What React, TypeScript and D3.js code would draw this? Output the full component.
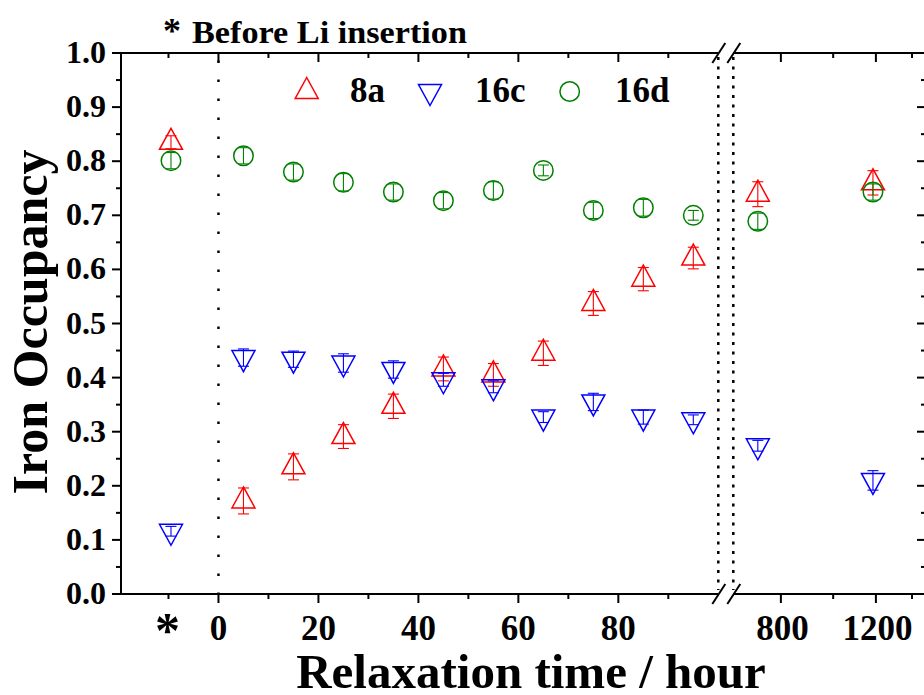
import React from "react";
import * as d3 from "d3";

// ---- data ----
const timesLeft = [-9.5, 5, 15, 25, 35, 45, 55, 65, 75, 85, 95];
const timesRight = [725, 1185];
const occ8a = [0.835, 0.172, 0.235, 0.291, 0.347, 0.416, 0.405, 0.445, 0.537, 0.582, 0.621, 0.739, 0.76];
const err8a = [0.012, 0.024, 0.024, 0.022, 0.0225, 0.022, 0.021, 0.0225, 0.022, 0.0215, 0.02, 0.023, 0.0225];
const occ16c = [0.116, 0.437, 0.434, 0.427, 0.415, 0.396, 0.383, 0.327, 0.355, 0.327, 0.322, 0.274, 0.21];
const err16c = [0.009, 0.016, 0.015, 0.017, 0.016, 0.012, 0.011, 0.01, 0.016, 0.013, 0.009, 0.01, 0.018];
const occ16d = [0.801, 0.81, 0.78, 0.761, 0.743, 0.727, 0.746, 0.783, 0.709, 0.714, 0.7, 0.689, 0.743];
const err16d = [0.015, 0.015, 0.015, 0.016, 0.015, 0.015, 0.016, 0.01, 0.015, 0.0155, 0.009, 0.015, 0.015];

const seriesNames = ["8a", "16c", "16d"];
const seriesColors = ["#ff0000", "#0000ff", "#008000"];

const xMajorLeft = [0, 20, 40, 60, 80];
const xMinorLeft = [-10, 10, 30, 50, 70, 90];
const xMajorRight = [800, 1200];
const xMinorRight = [1000, 1400];
const yMajor = [0, 0.1, 0.2, 0.3, 0.4, 0.5, 0.6, 0.7, 0.8, 0.9, 1.0];
const yMinor = [0.05, 0.15, 0.25, 0.35, 0.45, 0.55, 0.65, 0.75, 0.85, 0.95];
const beforeTickValue = -10;
const beforeLabel = "*";
const xTitle = "Relaxation time / hour";
const yTitle = "Iron Occupancy";
const noteText = "Before Li insertion";

const FONT = "'Liberation Serif', 'Times New Roman', Times, serif";

export default function App() {
  const W = 924, H = 695;
  const L = 121, BR1 = 718.3, BR2 = 733.3, R = 926, T = 53, B = 594;
  const xL = d3.scaleLinear().domain([-19.5, 100]).range([L, BR1]);
  const xR = d3.scaleLog().domain([653, 1486]).range([BR2, R]);
  const y = d3.scaleLinear().domain([0, 1]).range([B, T]);

  const allTimes = [...timesLeft, ...timesRight];
  const xOf = (i: number) => (i < timesLeft.length ? xL(allTimes[i]) : xR(allTimes[i]));

  const upTri = "M0,-14L11.5,7L-11.5,7Z";
  const downTri = "M0,14L11.5,-7L-11.5,-7Z";

  const marker = (s: number, cx: number, cy: number, key: string) => {
    const c = seriesColors[s];
    if (s === 0) return <path key={key} d={upTri} transform={`translate(${cx},${cy})`} fill="none" stroke={c} strokeWidth={1.5} />;
    if (s === 1) return <path key={key} d={downTri} transform={`translate(${cx},${cy})`} fill="none" stroke={c} strokeWidth={1.5} />;
    return <circle key={key} cx={cx} cy={cy} r={9.75} fill="none" stroke={c} strokeWidth={1.5} />;
  };

  const series = [
    { v: occ8a, e: err8a },
    { v: occ16c, e: err16c },
    { v: occ16d, e: err16d },
  ];

  const majLen = 9, minLen = 5;

  const vTick = (x: number, y0: number, dir: number, len: number, key: string) => (
    <line key={key} x1={x} x2={x} y1={y0} y2={y0 + dir * len} stroke="#000" strokeWidth={2} />
  );
  const hTick = (x0: number, yy: number, dir: number, len: number, key: string) => (
    <line key={key} x1={x0} x2={x0 + dir * len} y1={yy} y2={yy} stroke="#000" strokeWidth={2} />
  );

  const slash = (cx: number, cy: number, key: string) => (
    <line key={key} x1={cx - 6.5} y1={cy + 10} x2={cx + 6.5} y2={cy - 10} stroke="#000" strokeWidth={2} />
  );

  return (
    <svg width={W} height={H} style={{ position: "absolute", left: 0, top: 0, background: "#fff" }} fontFamily={FONT}>
      <rect width={W} height={H} fill="#fff" />
      {/* dotted vertical lines */}
      <line x1={xL(0)} x2={xL(0)} y1={T} y2={B} stroke="#000" strokeWidth={2.5} strokeDasharray="2.5 16.5" strokeDashoffset={-7.4} />
      <line x1={BR1} x2={BR1} y1={T + 4} y2={B - 4} stroke="#000" strokeWidth={2.5} strokeDasharray="3 6.5" />
      <line x1={BR2} x2={BR2} y1={T + 4} y2={B - 4} stroke="#000" strokeWidth={2.5} strokeDasharray="3 6.5" />

      {/* axes lines */}
      <line x1={L} x2={L} y1={T} y2={B} stroke="#000" strokeWidth={2} />
      <line x1={R} x2={R} y1={T} y2={B} stroke="#000" strokeWidth={2} />
      <line x1={L - 1} x2={BR1} y1={B} y2={B} stroke="#000" strokeWidth={2} />
      <line x1={BR2} x2={R} y1={B} y2={B} stroke="#000" strokeWidth={2} />
      <line x1={L - 1} x2={BR1} y1={T} y2={T} stroke="#000" strokeWidth={2} />
      <line x1={BR2} x2={R} y1={T} y2={T} stroke="#000" strokeWidth={2} />
      {slash(BR1 + 0.5, B, "s1")}
      {slash(BR2 + 0.5, B, "s2")}
      {slash(BR1 + 0.5, T, "s3")}
      {slash(BR2 + 0.5, T, "s4")}

      {/* y ticks */}
      {yMajor.map((v, i) => hTick(L, y(v), -1, majLen, `ylM${i}`))}
      {yMinor.map((v, i) => hTick(L, y(v), -1, minLen, `ylm${i}`))}
      {yMajor.map((v, i) => hTick(R, y(v), -1, majLen, `yrM${i}`))}
      {yMinor.map((v, i) => hTick(R, y(v), -1, minLen, `yrm${i}`))}
      {yMajor.map((v, i) => (
        <text key={`yl${i}`} x={106} y={y(v) + 10} textAnchor="end" fontSize={32} fontWeight="bold">
          {v.toFixed(1)}
        </text>
      ))}

      {/* x ticks */}
      {xMajorLeft.map((v, i) => vTick(xL(v), B, 1, majLen, `xbM${i}`))}
      {xMinorLeft.map((v, i) => vTick(xL(v), B, 1, minLen, `xbm${i}`))}
      {xMajorLeft.map((v, i) => vTick(xL(v), T, 1, majLen, `xtM${i}`))}
      {xMinorLeft.map((v, i) => vTick(xL(v), T, 1, minLen, `xtm${i}`))}
      {xMajorRight.map((v, i) => vTick(xR(v), B, 1, majLen, `xbRM${i}`))}
      {xMinorRight.map((v, i) => vTick(xR(v), B, 1, minLen, `xbRm${i}`))}
      {xMajorRight.map((v, i) => vTick(xR(v), T, 1, majLen, `xtRM${i}`))}
      {xMinorRight.map((v, i) => vTick(xR(v), T, 1, minLen, `xtRm${i}`))}
      {xMajorLeft.map((v, i) => (
        <text key={`xl${i}`} x={xL(v)} y={640} textAnchor="middle" fontSize={35} fontWeight="bold">
          {String(v)}
        </text>
      ))}
      {xMajorRight.map((v, i) => (
        <text key={`xr${i}`} x={xR(v) + 1.5} y={640} textAnchor="middle" fontSize={35} fontWeight="bold">
          {String(v)}
        </text>
      ))}
      <text x={xL(beforeTickValue) - 1} y={647} textAnchor="middle" fontSize={50} fontWeight="bold">
        {beforeLabel}
      </text>

      {/* titles */}
      <text x={531} y={688} textAnchor="middle" fontSize={49} fontWeight="bold">
        {xTitle}
      </text>
      <text transform="translate(47,322) rotate(-90)" textAnchor="middle" fontSize={50} fontWeight="bold">
        {yTitle}
      </text>
      <text x={163} y={43} fontSize={36} fontWeight="bold">*</text>
      <text x={192} y={43} fontSize={31} fontWeight="bold" textLength={275} lengthAdjust="spacingAndGlyphs">
        {noteText}
      </text>

      {/* legend */}
      {[306.7, 430, 569.7].map((lx, s) => (
        <g key={`lg${s}`}>
          {marker(s, lx, 91.5, `lgm${s}`)}
          <text x={[350, 475, 615][s]} y={102} fontSize={35} fontWeight="bold">
            {seriesNames[s]}
          </text>
        </g>
      ))}

      {/* data */}
      {series.map((sr, s) => (
        <g key={`ser${s}`}>
          {sr.v.map((v, i) => marker(s, xOf(i), y(v), `m${s}-${i}`))}
          {sr.v.map((v, i) => {
            const cx = xOf(i);
            const y1 = y(v + sr.e[i]);
            const y2 = y(v - sr.e[i]);
            const c = seriesColors[s];
            return (
              <g key={`e${s}-${i}`} stroke={c} strokeWidth={1.1}>
                <line x1={cx} x2={cx} y1={y1} y2={y2} />
                <line x1={cx - 5.5} x2={cx + 5.5} y1={y1} y2={y1} />
                <line x1={cx - 5.5} x2={cx + 5.5} y1={y2} y2={y2} />
              </g>
            );
          })}
        </g>
      ))}
    </svg>
  );
}
